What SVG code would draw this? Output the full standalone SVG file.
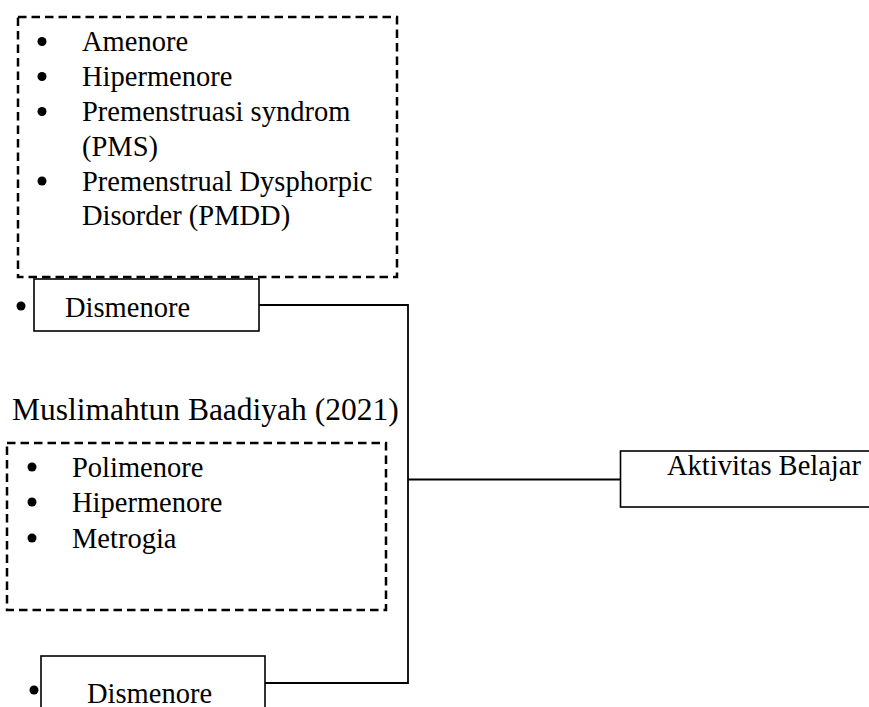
<svg xmlns="http://www.w3.org/2000/svg" width="869" height="707" viewBox="0 0 869 707">
<style>
text{font-family:"Liberation Serif","Times New Roman",serif;font-size:28.5px;fill:#000}
.dash{fill:none;stroke:#000;stroke-width:2.5;stroke-dasharray:8.5 5}
.box{fill:#fff;stroke:#000;stroke-width:1.6}
.conn{fill:none;stroke:#000;stroke-width:1.8}
.b{fill:#000}
</style>
<rect width="869" height="707" fill="#fff"/>
<g id="list-top">
<rect class="dash" x="18" y="17" width="379" height="260"/>
<circle class="b" cx="42" cy="41.5" r="4.5"/><text x="82" y="51">Amenore</text>
<circle class="b" cx="42" cy="76.5" r="4.5"/><text x="82" y="86">Hipermenore</text>
<circle class="b" cx="42" cy="111.5" r="4.5"/><text x="82" y="121">Premenstruasi syndrom</text>
<text x="82" y="156">(PMS)</text>
<circle class="b" cx="42" cy="181" r="4.5"/><text x="82" y="190.5">Premenstrual Dysphorpic</text>
<text x="82" y="225">Disorder (PMDD)</text>
</g>
<g id="dismenore-top">
<rect class="box" x="34" y="279" width="225" height="52"/>
<circle class="b" cx="21" cy="306" r="4.5"/>
<text x="65" y="317">Dismenore</text>
</g>
<g id="author">
<text x="12" y="420" style="font-size:31.5px">Muslimahtun Baadiyah (2021)</text>
</g>
<g id="list-bottom">
<rect class="dash" x="7" y="443" width="379" height="167"/>
<circle class="b" cx="32" cy="467" r="4.5"/><text x="72" y="477">Polimenore</text>
<circle class="b" cx="32" cy="502" r="4.5"/><text x="72" y="512">Hipermenore</text>
<circle class="b" cx="32" cy="538" r="4.5"/><text x="72" y="548">Metrogia</text>
</g>
<g id="dismenore-bottom">
<rect class="box" x="41" y="656" width="224" height="60"/>
<circle class="b" cx="34" cy="690" r="4.5"/>
<text x="87" y="703">Dismenore</text>
</g>
<g id="aktivitas">
<rect class="box" x="620.5" y="451" width="260" height="56"/>
<text x="667" y="475">Aktivitas Belajar</text>
</g>
<g id="connectors">
<polyline class="conn" points="259,305 408,305 408,683 265,683"/>
<line class="conn" x1="408" y1="479.5" x2="621" y2="479.5"/>
</g>
</svg>
